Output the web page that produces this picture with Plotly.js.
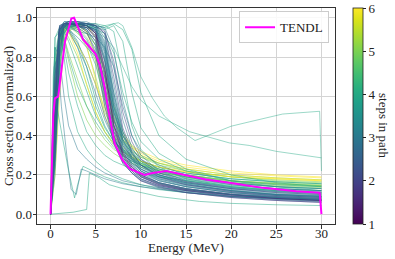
<!DOCTYPE html>
<html>
<head>
<meta charset="utf-8">
<script src="https://cdn.plot.ly/plotly-3.0.1.min.js"></script>
<style>html,body{margin:0;padding:0;background:#fff;}#chart{width:395px;height:259px;}</style>
</head>
<body>
<div id="chart"></div>
<script>
// ---------------- DATA ----------------
const energy = [0, 0.5, 1, 1.5, 2, 3, 4, 5, 6, 7, 8, 9, 10, 12, 15, 20, 25, 30];

// green / yellow paths (more steps)
const stepsGreen = [5, 6, 4, 5, 6, 4, 5, 4, 6, 5, 4, 5, 3, 4, 5, 6, 4, 5, 3, 5, 6];
const valuesGreen = [
  [0, 0.45, 0.88, 0.95, 0.96, 0.93, 0.85, 0.70, 0.52, 0.42, 0.36, 0.32, 0.29, 0.26, 0.23, 0.20, 0.185, 0.175],
  [0, 0.30, 0.75, 0.90, 0.95, 0.97, 0.93, 0.80, 0.60, 0.47, 0.40, 0.35, 0.32, 0.28, 0.25, 0.22, 0.20, 0.19],
  [0, 0.60, 0.94, 0.96, 0.95, 0.88, 0.75, 0.58, 0.45, 0.37, 0.32, 0.29, 0.26, 0.23, 0.20, 0.17, 0.155, 0.145],
  [0, 0.50, 0.90, 0.97, 0.96, 0.92, 0.88, 0.78, 0.55, 0.40, 0.33, 0.29, 0.26, 0.22, 0.19, 0.16, 0.145, 0.135],
  [0, 0.20, 0.60, 0.85, 0.93, 0.96, 0.96, 0.90, 0.70, 0.50, 0.40, 0.34, 0.30, 0.26, 0.23, 0.20, 0.185, 0.175],
  [0, 0.70, 0.95, 0.93, 0.88, 0.75, 0.62, 0.50, 0.42, 0.36, 0.32, 0.29, 0.27, 0.24, 0.21, 0.18, 0.165, 0.155],
  [0, 0.35, 0.82, 0.93, 0.97, 0.95, 0.90, 0.82, 0.65, 0.48, 0.38, 0.33, 0.29, 0.25, 0.22, 0.19, 0.17, 0.16],
  [0, 0.55, 0.92, 0.96, 0.94, 0.85, 0.70, 0.55, 0.44, 0.37, 0.33, 0.30, 0.27, 0.24, 0.21, 0.18, 0.165, 0.155],
  [0, 0.40, 0.85, 0.94, 0.96, 0.94, 0.86, 0.68, 0.50, 0.40, 0.34, 0.30, 0.27, 0.24, 0.215, 0.19, 0.18, 0.17],
  [0, 0.65, 0.93, 0.90, 0.82, 0.68, 0.55, 0.45, 0.38, 0.33, 0.30, 0.27, 0.25, 0.22, 0.20, 0.17, 0.155, 0.145],
  [0, 0.30, 0.78, 0.92, 0.96, 0.97, 0.96, 0.92, 0.78, 0.55, 0.40, 0.32, 0.27, 0.22, 0.185, 0.155, 0.14, 0.13],
  [0, 0.50, 0.91, 0.96, 0.97, 0.96, 0.93, 0.86, 0.68, 0.48, 0.37, 0.31, 0.27, 0.23, 0.20, 0.17, 0.155, 0.145],
  [0, 0.60, 0.94, 0.96, 0.94, 0.87, 0.78, 0.66, 0.50, 0.38, 0.31, 0.26, 0.23, 0.19, 0.16, 0.13, 0.115, 0.105],
  [0, 0.45, 0.89, 0.95, 0.96, 0.93, 0.87, 0.76, 0.58, 0.42, 0.33, 0.28, 0.24, 0.20, 0.17, 0.14, 0.125, 0.115],
  [0, 0.40, 0.86, 0.95, 0.96, 0.95, 0.92, 0.86, 0.74, 0.55, 0.42, 0.35, 0.30, 0.26, 0.22, 0.19, 0.175, 0.165],
  [0, 0.55, 0.92, 0.95, 0.93, 0.86, 0.78, 0.66, 0.54, 0.44, 0.38, 0.34, 0.31, 0.27, 0.24, 0.21, 0.195, 0.185],
  [0, 0.35, 0.84, 0.94, 0.96, 0.96, 0.94, 0.88, 0.72, 0.52, 0.38, 0.31, 0.26, 0.21, 0.175, 0.145, 0.13, 0.12],
  [0, 0.75, 0.95, 0.94, 0.90, 0.80, 0.66, 0.52, 0.42, 0.35, 0.31, 0.28, 0.255, 0.225, 0.20, 0.17, 0.16, 0.15],
  [0, 0.50, 0.91, 0.96, 0.96, 0.94, 0.89, 0.80, 0.62, 0.45, 0.35, 0.29, 0.25, 0.20, 0.165, 0.135, 0.12, 0.11],
  [0, 0.60, 0.92, 0.88, 0.78, 0.60, 0.48, 0.40, 0.35, 0.31, 0.28, 0.26, 0.24, 0.21, 0.19, 0.165, 0.15, 0.14],
  [0, 0.45, 0.87, 0.94, 0.93, 0.82, 0.66, 0.52, 0.42, 0.36, 0.32, 0.29, 0.27, 0.24, 0.215, 0.19, 0.18, 0.17]
];

// light teal paths
const stepsTeal = [4, 4, 3, 4, 3, 4, 4, 3, 4, 3, 4];
const valuesTeal = [
  [0, 0.20, 0.70, 0.92, 0.96, 0.97, 0.97, 0.97, 0.96, 0.93, 0.70, 0.45, 0.33, 0.24, 0.18, 0.14, 0.12, 0.11],
  [0, 0.30, 0.80, 0.93, 0.95, 0.96, 0.96, 0.95, 0.94, 0.96, 0.88, 0.62, 0.44, 0.31, 0.23, 0.17, 0.14, 0.12],
  [0, 0.50, 0.90, 0.95, 0.94, 0.90, 0.85, 0.80, 0.70, 0.52, 0.40, 0.33, 0.28, 0.23, 0.19, 0.15, 0.13, 0.12],
  [0, 0.80, 0.95, 0.90, 0.80, 0.65, 0.55, 0.47, 0.40, 0.34, 0.30, 0.27, 0.25, 0.22, 0.19, 0.16, 0.14, 0.13],
  [0, 0.60, 0.93, 0.96, 0.95, 0.93, 0.92, 0.90, 0.85, 0.75, 0.55, 0.40, 0.32, 0.25, 0.20, 0.16, 0.14, 0.13],
  [0, 0.40, 0.85, 0.94, 0.96, 0.96, 0.95, 0.94, 0.92, 0.82, 0.62, 0.47, 0.37, 0.28, 0.22, 0.17, 0.15, 0.14],
  [0, 0.90, 0.93, 0.85, 0.72, 0.55, 0.42, 0.35, 0.30, 0.27, 0.25, 0.23, 0.21, 0.19, 0.17, 0.14, 0.12, 0.11],
  [0, 0.70, 0.95, 0.96, 0.93, 0.85, 0.75, 0.62, 0.48, 0.38, 0.32, 0.28, 0.25, 0.21, 0.18, 0.15, 0.13, 0.12],
  [0, 0.25, 0.75, 0.92, 0.95, 0.96, 0.96, 0.96, 0.95, 0.97, 0.94, 0.84, 0.62, 0.40, 0.28, 0.20, 0.16, 0.14],
  [0, 0.85, 0.80, 0.60, 0.45, 0.33, 0.28, 0.24, 0.21, 0.19, 0.17, 0.16, 0.15, 0.13, 0.11, 0.09, 0.08, 0.07],
  [0, 0.90, 0.95, 0.80, 0.60, 0.42, 0.33, 0.27, 0.23, 0.20, 0.18, 0.165, 0.15, 0.135, 0.12, 0.10, 0.09, 0.08]
];

// dark band (few steps)
const stepsDark = [2, 3, 2, 3, 3, 2, 3, 2, 3, 2, 3, 2, 3, 1, 3, 3, 2, 3, 3, 2, 3, 3, 2, 3, 3, 2];
const valuesDark = [
  [0, 0.55, 0.95, 0.97, 0.97, 0.97, 0.96, 0.93, 0.75, 0.45, 0.30, 0.24, 0.20, 0.16, 0.13, 0.10, 0.085, 0.075],
  [0, 0.40, 0.90, 0.97, 0.98, 0.98, 0.97, 0.95, 0.85, 0.55, 0.35, 0.27, 0.22, 0.17, 0.14, 0.11, 0.095, 0.085],
  [0, 0.70, 0.96, 0.97, 0.97, 0.96, 0.95, 0.90, 0.65, 0.40, 0.28, 0.22, 0.18, 0.145, 0.12, 0.095, 0.08, 0.07],
  [0, 0.30, 0.85, 0.96, 0.97, 0.97, 0.97, 0.96, 0.90, 0.62, 0.40, 0.30, 0.24, 0.19, 0.155, 0.12, 0.10, 0.09],
  [0, 0.60, 0.95, 0.98, 0.98, 0.97, 0.96, 0.94, 0.80, 0.50, 0.33, 0.26, 0.21, 0.17, 0.14, 0.11, 0.09, 0.08],
  [0, 0.50, 0.93, 0.97, 0.97, 0.97, 0.96, 0.92, 0.72, 0.44, 0.30, 0.23, 0.19, 0.15, 0.12, 0.09, 0.075, 0.065],
  [0, 0.35, 0.88, 0.96, 0.97, 0.98, 0.98, 0.96, 0.88, 0.60, 0.38, 0.29, 0.23, 0.18, 0.15, 0.12, 0.10, 0.095],
  [0, 0.65, 0.96, 0.97, 0.97, 0.96, 0.94, 0.88, 0.60, 0.37, 0.26, 0.21, 0.17, 0.14, 0.11, 0.085, 0.07, 0.06],
  [0, 0.45, 0.92, 0.97, 0.98, 0.98, 0.97, 0.95, 0.83, 0.52, 0.34, 0.26, 0.21, 0.16, 0.13, 0.10, 0.085, 0.075],
  [0, 0.55, 0.94, 0.97, 0.97, 0.97, 0.96, 0.93, 0.78, 0.48, 0.32, 0.25, 0.20, 0.16, 0.13, 0.105, 0.09, 0.08],
  [0, 0.25, 0.80, 0.95, 0.97, 0.97, 0.97, 0.96, 0.92, 0.66, 0.42, 0.31, 0.25, 0.20, 0.16, 0.13, 0.11, 0.10],
  [0, 0.60, 0.95, 0.97, 0.97, 0.97, 0.95, 0.91, 0.70, 0.42, 0.29, 0.23, 0.19, 0.15, 0.125, 0.10, 0.085, 0.075],
  [0, 0.50, 0.94, 0.98, 0.98, 0.97, 0.96, 0.94, 0.82, 0.54, 0.36, 0.28, 0.22, 0.18, 0.145, 0.115, 0.10, 0.09],
  [0, 0.40, 0.90, 0.96, 0.97, 0.97, 0.96, 0.92, 0.74, 0.46, 0.31, 0.24, 0.195, 0.155, 0.125, 0.10, 0.08, 0.07],
  [0, 0.70, 0.96, 0.97, 0.97, 0.97, 0.96, 0.94, 0.79, 0.49, 0.32, 0.25, 0.20, 0.16, 0.13, 0.10, 0.085, 0.075],
  [0, 0.35, 0.87, 0.96, 0.97, 0.97, 0.97, 0.95, 0.86, 0.57, 0.37, 0.28, 0.22, 0.175, 0.14, 0.11, 0.095, 0.085],
  [0, 0.55, 0.94, 0.97, 0.97, 0.96, 0.95, 0.90, 0.66, 0.40, 0.27, 0.21, 0.17, 0.135, 0.11, 0.085, 0.07, 0.06],
  [0, 0.45, 0.92, 0.97, 0.98, 0.98, 0.97, 0.96, 0.87, 0.58, 0.38, 0.29, 0.23, 0.185, 0.15, 0.12, 0.10, 0.09],
  [0, 0.45, 0.90, 0.97, 0.97, 0.97, 0.97, 0.97, 0.94, 0.75, 0.48, 0.34, 0.27, 0.20, 0.16, 0.125, 0.105, 0.095],
  [0, 0.50, 0.93, 0.97, 0.98, 0.98, 0.97, 0.96, 0.92, 0.70, 0.44, 0.32, 0.25, 0.19, 0.15, 0.115, 0.095, 0.085],
  [0, 0.35, 0.88, 0.96, 0.97, 0.97, 0.96, 0.94, 0.84, 0.62, 0.42, 0.31, 0.25, 0.195, 0.155, 0.12, 0.10, 0.09],
  [0, 0.60, 0.94, 0.96, 0.96, 0.95, 0.92, 0.84, 0.62, 0.40, 0.29, 0.23, 0.19, 0.155, 0.125, 0.10, 0.085, 0.075],
  [0, 0.30, 0.82, 0.95, 0.97, 0.97, 0.97, 0.96, 0.93, 0.78, 0.52, 0.37, 0.28, 0.21, 0.165, 0.13, 0.11, 0.10],
  [0, 0.50, 0.93, 0.97, 0.97, 0.96, 0.94, 0.86, 0.58, 0.36, 0.26, 0.21, 0.175, 0.14, 0.115, 0.09, 0.075, 0.065],
  [0, 0.40, 0.90, 0.96, 0.97, 0.97, 0.97, 0.96, 0.95, 0.84, 0.58, 0.40, 0.30, 0.22, 0.17, 0.135, 0.115, 0.105],
  [0, 0.55, 0.94, 0.97, 0.97, 0.96, 0.93, 0.82, 0.55, 0.36, 0.27, 0.22, 0.18, 0.145, 0.12, 0.095, 0.08, 0.07]
];

// individual unusual paths
const riseEnergy = [0, 0.5, 1, 2, 3, 4, 5, 6, 7, 7.5, 8, 9, 10, 11.3, 12.6, 14, 16, 18, 20, 22, 25.7, 29.8, 30];
const riseValues = [0, 0.3, 0.80, 0.94, 0.95, 0.95, 0.95, 0.96, 0.97, 0.975, 0.96, 0.85, 0.70, 0.59, 0.50, 0.44, 0.375, 0.41, 0.448, 0.47, 0.51, 0.524, 0.22];
const riseSteps = 4;

const slowEnergy = [0, 0.5, 1, 2, 3, 4, 5, 6, 7, 8, 9, 10, 12, 15.4, 19.8, 22, 25, 30];
const slowValues = [0, 0.5, 0.9, 0.96, 0.96, 0.95, 0.93, 0.90, 0.85, 0.75, 0.65, 0.58, 0.50, 0.42, 0.363, 0.35, 0.32, 0.287];
const slowSteps = 4;

const dipEnergyA = [0, 0.3, 0.5, 0.7, 1.36, 2.0, 2.66, 3.0, 3.6, 4.0, 5, 6, 7, 8, 10, 12, 15, 20, 25, 30];
const dipValuesA = [0, 0.7, 0.85, 0.55, 0.38, 0.22, 0.083, 0.15, 0.244, 0.235, 0.21, 0.19, 0.175, 0.16, 0.14, 0.125, 0.11, 0.09, 0.08, 0.07];
const dipStepsA = 4;

const dipEnergyB = [0, 0.4, 0.8, 1.2, 1.8, 2.28, 2.85, 3.4, 4, 5, 6, 8, 10, 15, 20, 25, 30];
const dipValuesB = [0, 0.75, 0.80, 0.55, 0.30, 0.126, 0.10, 0.23, 0.22, 0.20, 0.18, 0.155, 0.14, 0.11, 0.09, 0.08, 0.07];
const dipStepsB = 3;

const lateEnergy = [0, 1, 2.5, 4.0, 4.3, 5.4, 6.5, 7.7, 9.5, 12, 16.5, 20, 25, 30];
const lateValues = [0, 0.003, 0.01, 0.024, 0.21, 0.185, 0.15, 0.134, 0.117, 0.09, 0.065, 0.055, 0.048, 0.044];
const lateSteps = 4;

// TENDL reference
const tendlEnergy = [0, 0.3, 0.48, 0.85, 1.6, 2.3, 2.6, 3.07, 3.6, 4.35, 5.0, 5.46, 6.0, 6.4, 7.1, 7.9, 8.8, 10.4, 11.3, 12.8, 14.7, 17.2, 19.8, 23.5, 27.2, 29.8, 30];
const tendlValues = [0, 0.50, 0.59, 0.60, 0.88, 0.996, 1.0, 0.95, 0.89, 0.85, 0.815, 0.76, 0.645, 0.53, 0.36, 0.28, 0.23, 0.20, 0.21, 0.22, 0.20, 0.177, 0.16, 0.134, 0.117, 0.109, 0];

const xTicks = [0, 5, 10, 15, 20, 25, 30];
const yTicks = [0, 0.2, 0.4, 0.6, 0.8, 1.0];
const cbTicks = [1, 2, 3, 4, 5, 6];
const stepMin = 1, stepMax = 6;

// ---------------- STYLE ----------------
const viridis = [
  [0, '#440154'], [0.0627, '#48186a'], [0.1255, '#472d7b'], [0.1882, '#424086'],
  [0.2510, '#3b528b'], [0.3137, '#33638d'], [0.3765, '#2c728e'], [0.4392, '#26828e'],
  [0.5020, '#21918c'], [0.5647, '#1fa088'], [0.6275, '#28ae80'], [0.6902, '#3fbc73'],
  [0.7529, '#5ec962'], [0.8157, '#84d44b'], [0.8784, '#addc30'], [0.9412, '#d8e219'], [1, '#fde725']
];
function hex2rgb(h){ return [parseInt(h.substr(1,2),16), parseInt(h.substr(3,2),16), parseInt(h.substr(5,2),16)]; }
function viridisColor(s){
  let t = (s - stepMin) / (stepMax - stepMin);
  t = Math.max(0, Math.min(1, t));
  for (let i = 1; i < viridis.length; i++) {
    if (t <= viridis[i][0]) {
      const a = viridis[i-1], b = viridis[i];
      const f = (t - a[0]) / (b[0] - a[0]);
      const ca = hex2rgb(a[1]), cb = hex2rgb(b[1]);
      const c = ca.map((v, k) => Math.round(v + f * (cb[k] - v)));
      return 'rgb(' + c.join(',') + ')';
    }
  }
  return viridis[viridis.length-1][1];
}

const FONT = "'Liberation Serif', serif";
const TXT = {family: FONT, size: 13, color: '#222'};
const traces = [];
const allX = [], allY = [], allC = [];
function addPath(xs, ys, s, op){
  traces.push({
    type: 'scatter', mode: 'lines', x: xs, y: ys,
    line: {color: viridisColor(s), width: 1},
    opacity: op, showlegend: false, hoverinfo: 'skip'
  });
  xs.forEach((v, i) => { allX.push(v); allY.push(ys[i]); allC.push(s); });
}

valuesGreen.forEach((ys, i) => addPath(energy, ys, stepsGreen[i], 0.55));
valuesTeal.forEach((ys, i) => addPath(energy, ys, stepsTeal[i], 0.5));
addPath(riseEnergy, riseValues, riseSteps, 0.45);
addPath(slowEnergy, slowValues, slowSteps, 0.45);
addPath(dipEnergyA, dipValuesA, dipStepsA, 0.5);
addPath(dipEnergyB, dipValuesB, dipStepsB, 0.5);
addPath(lateEnergy, lateValues, lateSteps, 0.5);
valuesDark.forEach((ys, i) => addPath(energy, ys, stepsDark[i], 0.5));

// invisible markers carrying the colour scale (for the colour bar)
traces.push({
  type: 'scatter', mode: 'markers', x: allX, y: allY,
  marker: {
    color: allC, colorscale: 'Viridis', cmin: stepMin, cmax: stepMax, opacity: 0, size: 1,
    showscale: true,
    colorbar: {
      x: 1.0604, xanchor: 'left', xpad: 0, y: 0.5, yanchor: 'middle', ypad: 0,
      len: 1, lenmode: 'fraction', thickness: 10, thicknessmode: 'pixels',
      outlinewidth: 0.8, outlinecolor: '#222',
      tickmode: 'array', tickvals: cbTicks, ticktext: cbTicks.map(String),
      ticks: 'outside', ticklen: 3, tickcolor: '#222',
      tickfont: TXT
    }
  },
  showlegend: false, hoverinfo: 'skip'
});

traces.push({
  type: 'scatter', mode: 'lines', x: tendlEnergy, y: tendlValues, name: 'TENDL',
  line: {color: '#ff00ff', width: 2}, hoverinfo: 'skip'
});

const layout = {
  width: 395, height: 259,
  margin: {l: 37, r: 60, t: 8, b: 35, pad: 0},
  paper_bgcolor: '#fff', plot_bgcolor: '#fff',
  font: TXT,
  showlegend: true,
  xaxis: {
    range: [-1.5, 31.5], tickmode: 'array', tickvals: xTicks, ticktext: xTicks.map(String),
    showgrid: true, gridcolor: '#d4d4d4', gridwidth: 1, zeroline: false,
    showline: true, linecolor: '#333', linewidth: 1, mirror: true,
    ticks: 'outside', ticklen: 3.5, tickcolor: '#333', ticklabelstandoff: -6,
    tickfont: TXT
  },
  yaxis: {
    range: [-0.05, 1.05], tickmode: 'array', tickvals: yTicks, ticktext: yTicks.map(v => v.toFixed(1)),
    showgrid: true, gridcolor: '#d4d4d4', gridwidth: 1, zeroline: false,
    showline: true, linecolor: '#333', linewidth: 1, mirror: true,
    ticks: 'outside', ticklen: 3.5, tickcolor: '#333', ticklabelstandoff: -2,
    tickfont: TXT
  },
  legend: {
    x: 0.98, xanchor: 'right', y: 0.985, yanchor: 'top',
    bgcolor: 'rgba(255,255,255,0.85)', bordercolor: '#cccccc', borderwidth: 1,
    font: TXT
  },
  annotations: [
    {text: 'Energy (MeV)', xref: 'paper', yref: 'paper', x: 0.5, y: -0.1065,
     xanchor: 'center', yanchor: 'middle', showarrow: false, font: TXT},
    {text: 'Cross section (normalized)', xref: 'paper', yref: 'paper', x: -0.0973, y: 0.5,
     xanchor: 'center', yanchor: 'middle', textangle: -90, showarrow: false, font: TXT},
    {text: 'steps in path', xref: 'paper', yref: 'paper', x: 1.161, y: 0.454,
     xanchor: 'center', yanchor: 'middle', textangle: 90, showarrow: false, font: TXT}
  ]
};

Plotly.newPlot('chart', traces, layout, {staticPlot: true, displayModeBar: false});
</script>
</body>
</html>
